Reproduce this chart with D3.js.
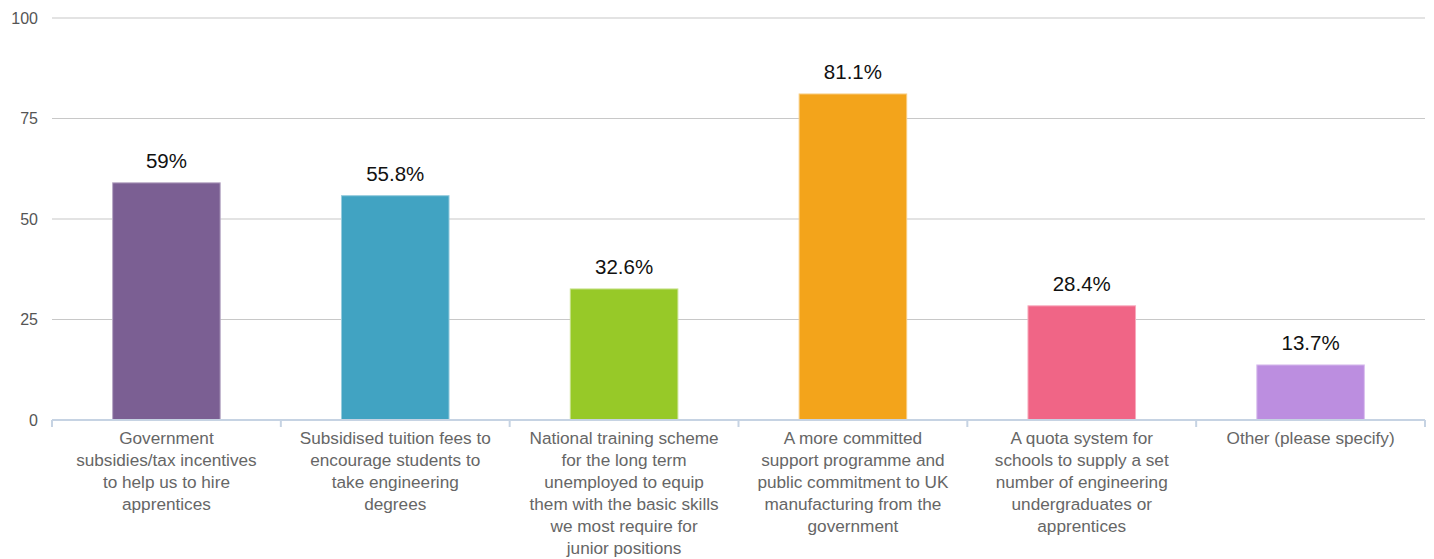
<!DOCTYPE html>
<html>
<head>
<meta charset="utf-8">
<script src="https://cdn.jsdelivr.net/npm/d3@7"></script>
<style>
  html, body { margin: 0; padding: 0; background: #fff; }
  svg { display: block; font-family: "Liberation Sans", Arial, Helvetica, sans-serif; }
</style>
</head>
<body>
<svg id="chart" width="1434" height="559"></svg>
<script>
// Survey responses: share of respondents choosing each measure (%)
const categories = [
  ["Government", "subsidies/tax incentives", "to help us to hire", "apprentices"],
  ["Subsidised tuition fees to", "encourage students to", "take engineering", "degrees"],
  ["National training scheme", "for the long term", "unemployed to equip", "them with the basic skills", "we most require for", "junior positions"],
  ["A more committed", "support programme and", "public commitment to UK", "manufacturing from the", "government"],
  ["A quota system for", "schools to supply a set", "number of engineering", "undergraduates or", "apprentices"],
  ["Other (please specify)"]
];
const values = [59, 55.8, 32.6, 81.1, 28.4, 13.7];
const valueLabels = ["59%", "55.8%", "32.6%", "81.1%", "28.4%", "13.7%"];
const yTicks = [0, 25, 50, 75, 100];
const barColors = ["#7b5f93", "#41a3c2", "#97c928", "#f3a41b", "#f06586", "#bc8ee0"];

const svg = d3.select("#chart");
const plotLeft = 52, plotRight = 1425, plotTop = 18, plotBottom = 420;

const x = d3.scaleBand()
  .domain(d3.range(categories.length))
  .range([plotLeft, plotRight])
  .paddingInner(0.53)
  .paddingOuter(0.265);

const y = d3.scaleLinear().domain([0, 100]).range([plotBottom, plotTop]);

// Horizontal gridlines
svg.append("g")
  .selectAll("line")
  .data(yTicks.filter(t => t > 0))
  .join("line")
  .attr("x1", plotLeft).attr("x2", plotRight)
  .attr("y1", d => y(d)).attr("y2", d => y(d))
  .attr("stroke", "#c8c8c8").attr("stroke-width", 1.2);

// Y tick labels
svg.append("g")
  .selectAll("text")
  .data(yTicks)
  .join("text")
  .attr("x", 38)
  .attr("y", d => y(d))
  .attr("dy", "0.35em")
  .attr("text-anchor", "end")
  .attr("font-size", 16)
  .attr("fill", "#555")
  .text(d => d);

// Bars
svg.append("g")
  .selectAll("rect")
  .data(values)
  .join("rect")
  .attr("x", (d, i) => x(i))
  .attr("y", d => y(d))
  .attr("width", x.bandwidth())
  .attr("height", d => y(0) - y(d))
  .attr("fill", (d, i) => barColors[i])
  .attr("stroke", (d, i) => d3.interpolateRgb(barColors[i], "#fff")(0.45))
  .attr("stroke-width", 1);

// Value labels above bars
svg.append("g")
  .selectAll("text")
  .data(values)
  .join("text")
  .attr("x", (d, i) => x(i) + x.bandwidth() / 2)
  .attr("y", d => y(d) - 15)
  .attr("text-anchor", "middle")
  .attr("font-size", 20.5)
  .attr("fill", "#111")
  .text((d, i) => valueLabels[i]);

// Category axis line and band separators
const step = x.step();
const axisG = svg.append("g");
axisG.append("line")
  .attr("x1", plotLeft).attr("x2", plotRight)
  .attr("y1", plotBottom).attr("y2", plotBottom)
  .attr("stroke", "#c6d3e3").attr("stroke-width", 2);
axisG.selectAll("line.tick")
  .data(d3.range(categories.length + 1))
  .join("line")
  .attr("class", "tick")
  .attr("x1", i => plotLeft + i * step).attr("x2", i => plotLeft + i * step)
  .attr("y1", plotBottom).attr("y2", plotBottom + 7)
  .attr("stroke", "#c6d3e3").attr("stroke-width", 2);

// Category labels, wrapped
const labelG = svg.append("g");
categories.forEach((lines, i) => {
  const cx = x(i) + x.bandwidth() / 2;
  const t = labelG.append("text")
    .attr("x", cx)
    .attr("y", 444)
    .attr("text-anchor", "middle")
    .attr("font-size", 17.2)
    .attr("fill", "#666");
  lines.forEach((ln, j) => {
    t.append("tspan")
      .attr("x", cx)
      .attr("y", 444 + j * 22)
      .text(ln);
  });
});
</script>
</body>
</html>
